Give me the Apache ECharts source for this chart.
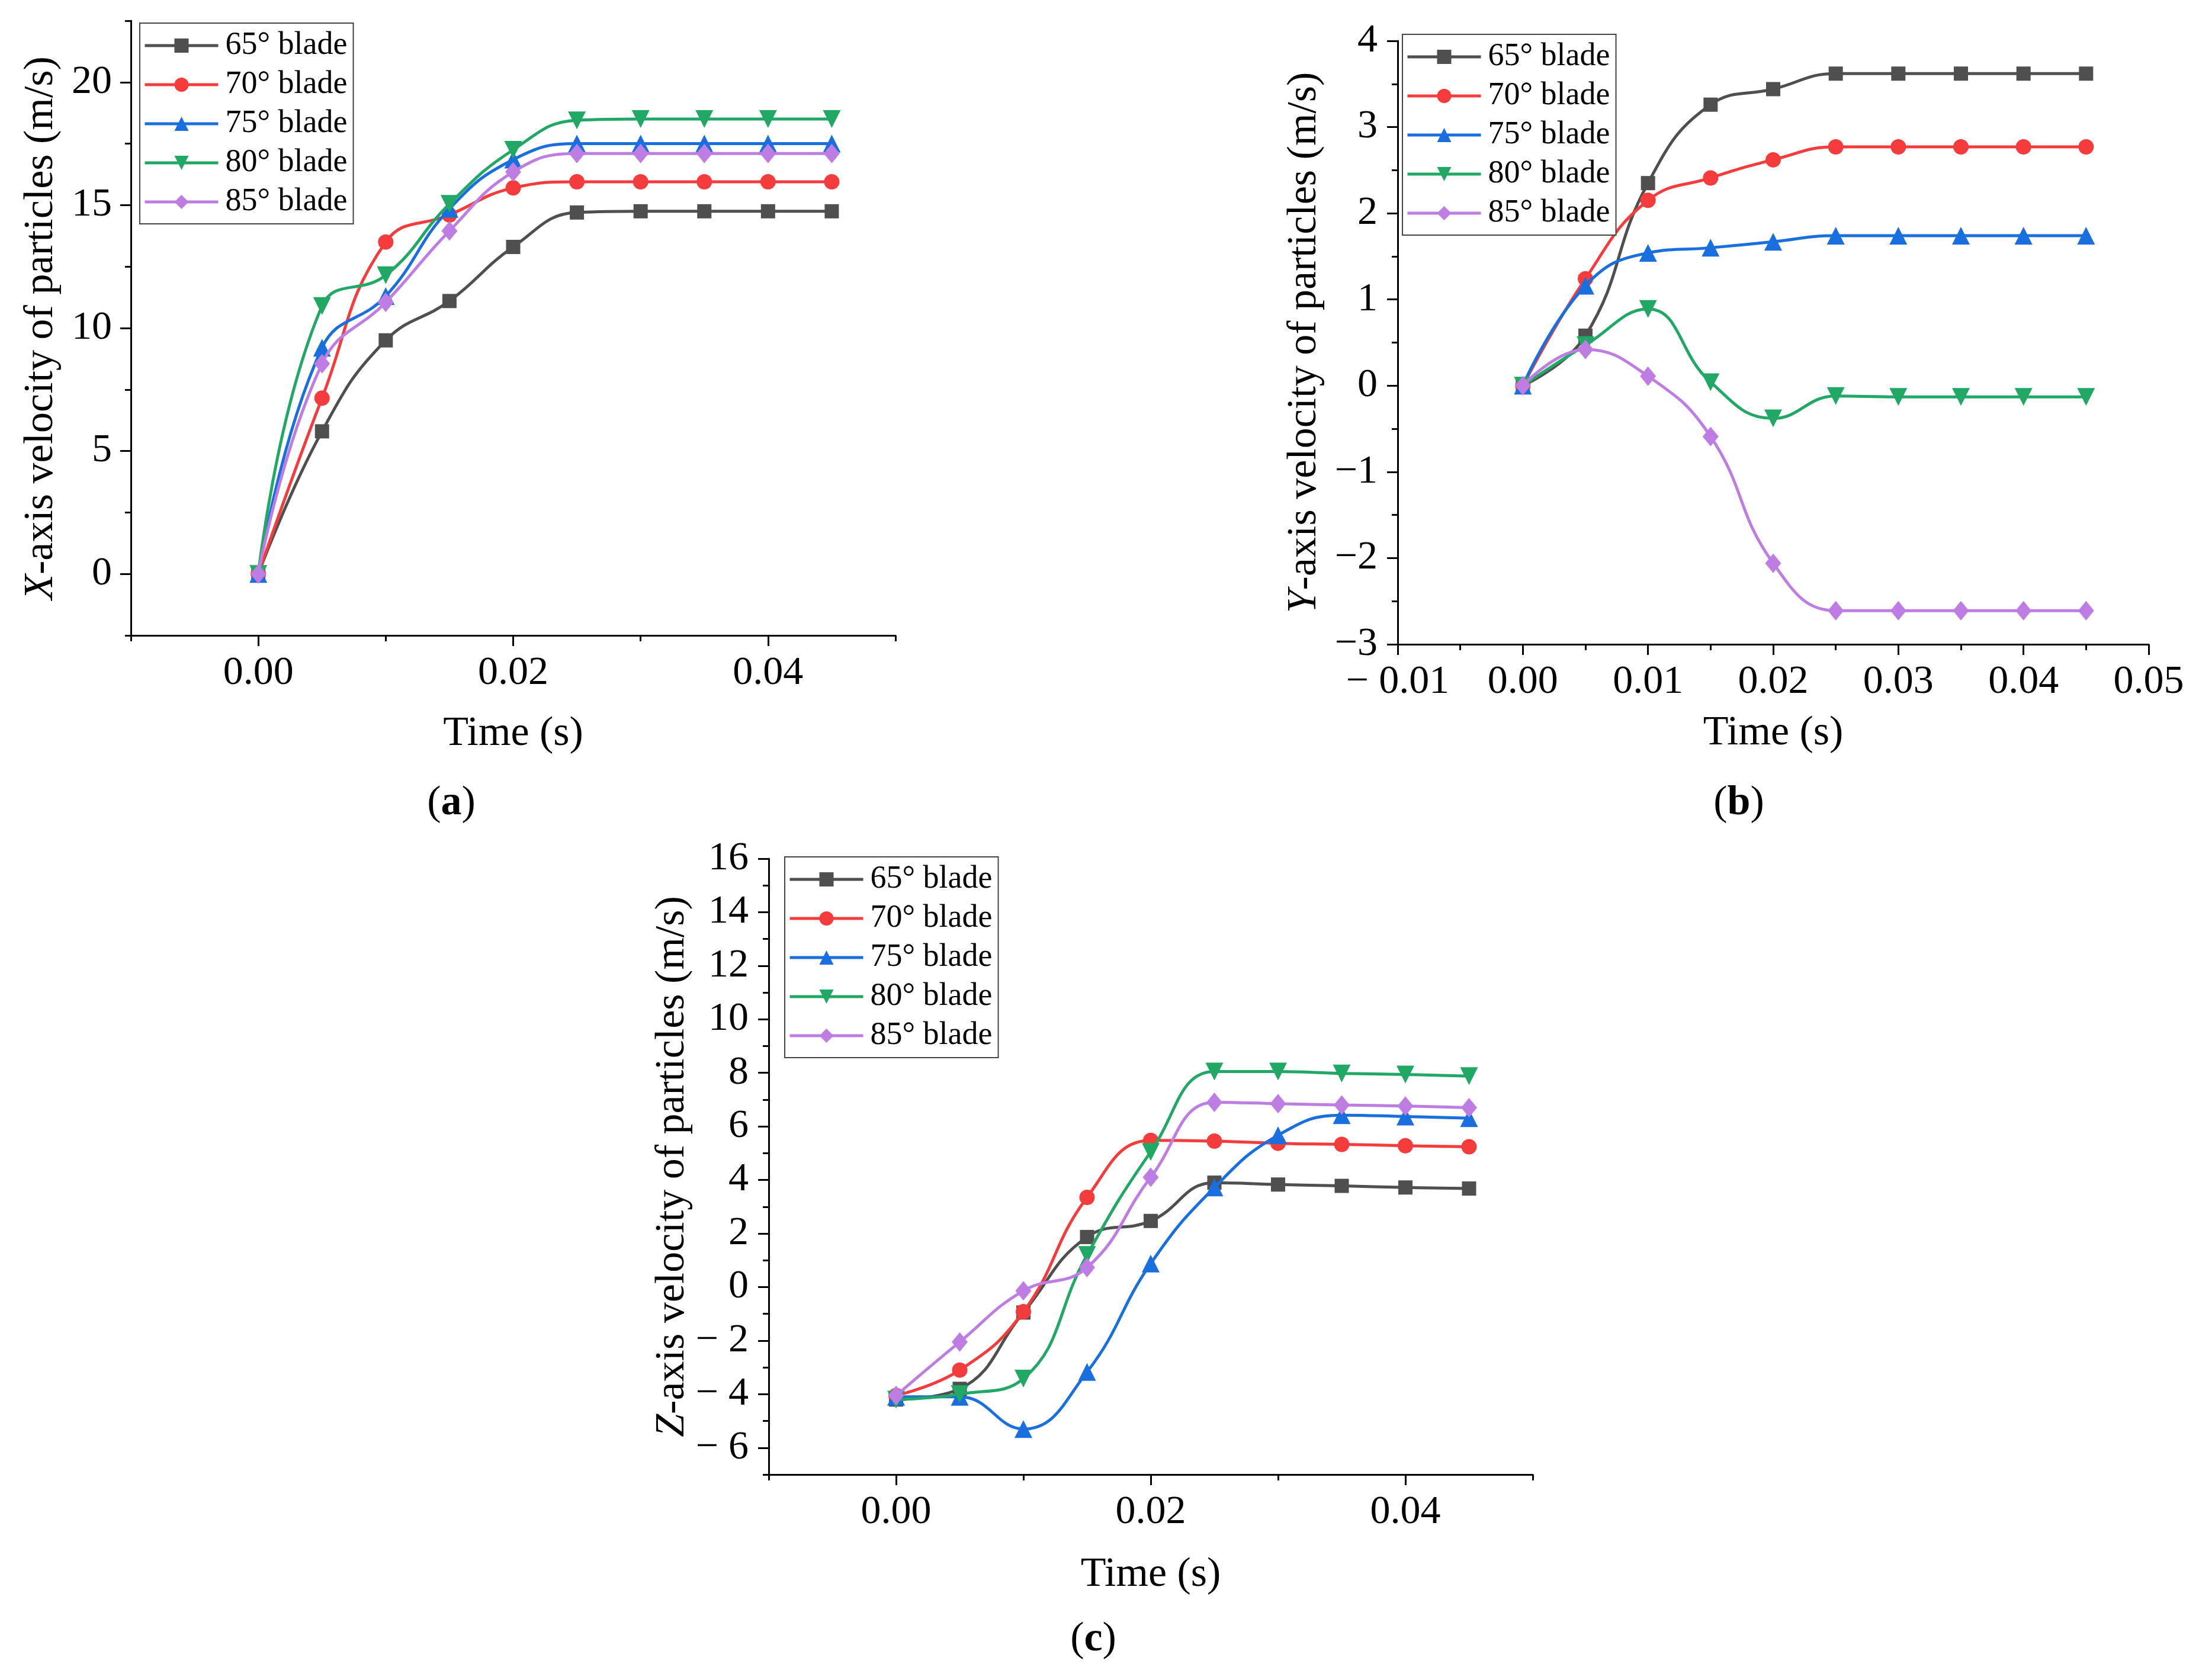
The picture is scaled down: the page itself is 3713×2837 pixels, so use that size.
<!DOCTYPE html>
<html>
<head>
<meta charset="utf-8">
<script src="https://cdn.jsdelivr.net/npm/echarts@6/dist/echarts.min.js"></script>
<title>Particle velocity</title>
<style>
  * { margin: 0; padding: 0; }
  html, body { background: #fff; }
  #chart { width: 3713px; height: 2837px; }
</style>
</head>
<body>
<div id="chart"></div>
<script>
// time points (s)
var timeValues = [0, 0.005, 0.01, 0.015, 0.02, 0.025, 0.03, 0.035, 0.04, 0.045];
var bladeNames = ['65° blade', '70° blade', '75° blade', '80° blade', '85° blade'];

// (a) X-axis velocity (m/s)
var vx65 = [0, 5.8, 9.5, 11.1, 13.3, 14.7, 14.75, 14.75, 14.75, 14.75];
var vx70 = [0, 7.15, 13.5, 14.6, 15.7, 15.95, 15.95, 15.95, 15.95, 15.95];
var vx75 = [0, 9.2, 11.3, 14.85, 16.85, 17.5, 17.5, 17.5, 17.5, 17.5];
var vx80 = [0, 10.9, 12.15, 15.05, 17.25, 18.45, 18.5, 18.5, 18.5, 18.5];
var vx85 = [0, 8.55, 11.05, 13.95, 16.35, 17.1, 17.1, 17.1, 17.1, 17.1];

// (b) Y-axis velocity (m/s)
var vy65 = [0, 0.58, 2.35, 3.26, 3.44, 3.62, 3.62, 3.62, 3.62, 3.62];
var vy70 = [0, 1.24, 2.15, 2.41, 2.62, 2.77, 2.77, 2.77, 2.77, 2.77];
var vy75 = [0, 1.16, 1.54, 1.6, 1.67, 1.74, 1.74, 1.74, 1.74, 1.74];
var vy80 = [0, 0.47, 0.89, 0.04, -0.38, -0.12, -0.13, -0.13, -0.13, -0.13];
var vy85 = [0, 0.42, 0.11, -0.59, -2.06, -2.61, -2.61, -2.61, -2.61, -2.61];

// (c) Z-axis velocity (m/s)
var vz65 = [-4.2, -3.8, -0.95, 1.87, 2.47, 3.9, 3.83, 3.78, 3.72, 3.68];
var vz70 = [-4.05, -3.1, -0.92, 3.35, 5.48, 5.45, 5.37, 5.33, 5.28, 5.24];
var vz75 = [-4.1, -4.1, -5.3, -3.17, 0.88, 3.72, 5.67, 6.42, 6.37, 6.31];
var vz80 = [-4.2, -4.0, -3.42, 1.2, 5.05, 8.05, 8.05, 7.98, 7.94, 7.88];
var vz85 = [-4.05, -2.05, -0.14, 0.73, 4.1, 6.9, 6.85, 6.8, 6.76, 6.7];

// ticks
var acTimeMajor = [0, 0.02, 0.04];
var acTimeMinor = [-0.01, 0.01, 0.03, 0.05];
var aYMajor = [0, 5, 10, 15, 20];
var aYMinor = [-2.5, 2.5, 7.5, 12.5, 17.5, 22.5];
var cYMajor = [-6, -4, -2, 0, 2, 4, 6, 8, 10, 12, 14, 16];
var cYMinor = [-7, -5, -3, -1, 1, 3, 5, 7, 9, 11, 13, 15];

var FONT = "'Liberation Serif', 'Times New Roman', serif";
var colors = ['#4F4F4F', '#F43C3C', '#1A6FDF', '#21A865', '#BE7DE2'];
var symbols = ['rect', 'circle', 'triangle', 'triangle', 'diamond'];
var symbolSizes = [24, 26, 30, 30, [27, 33]];
var symbolRotates = [0, 0, 0, 180, 0];

var grids = [
  { left: 221, top: 35, width: 1291, height: 1038 },
  { left: 2360, top: 69, width: 1268, height: 1019 },
  { left: 1298, top: 1450, width: 1290, height: 1040 }
];

var lineBlack = { color: '#000', width: 3 };

function minusFmt(sep, digits) {
  return function (v) {
    var s = digits == null ? String(Math.abs(v)) : Math.abs(v).toFixed(digits);
    return v < 0 ? '\u2212' + sep + s : s;
  };
}

function baseAxis(extra) {
  var ax = {
    type: 'value',
    axisLine: { show: true, onZero: false, lineStyle: lineBlack },
    axisTick: { show: true, length: 18, lineStyle: lineBlack },
    axisLabel: { color: '#000', fontFamily: FONT, fontSize: 68, margin: 30 },
    splitLine: { show: false },
    nameTextStyle: { color: '#000', fontFamily: FONT, fontSize: 70 },
    nameLocation: 'middle'
  };
  for (var k in extra) {
    if (typeof extra[k] === 'object' && ax[k] && !Array.isArray(extra[k])) {
      ax[k] = Object.assign({}, ax[k], extra[k]);
    } else {
      ax[k] = extra[k];
    }
  }
  return ax;
}

function minorAxis(gridIndex, pos, min, max, values) {
  return {
    type: 'value', gridIndex: gridIndex, position: pos, min: min, max: max,
    axisLine: { show: false, onZero: false },
    axisTick: { show: true, length: 10, lineStyle: lineBlack, customValues: values },
    axisLabel: { show: false, customValues: values },
    splitLine: { show: false }
  };
}

var italicRich = { i: { fontStyle: 'italic', fontFamily: FONT, fontSize: 70, color: '#000' } };

var xAxes = [
  baseAxis({ gridIndex: 0, position: 'bottom', min: -0.01, max: 0.05,
    axisTick: { customValues: acTimeMajor },
    axisLabel: { customValues: acTimeMajor, formatter: minusFmt(' ', 2) },
    name: 'Time (s)', nameGap: 132 }),
  minorAxis(0, 'bottom', -0.01, 0.05, acTimeMinor),
  baseAxis({ gridIndex: 1, position: 'bottom', min: -0.01, max: 0.05, interval: 0.01,
    minorTick: { show: true, splitNumber: 2, length: 10, lineStyle: lineBlack },
    axisLabel: { formatter: minusFmt(' ', 2) },
    name: 'Time (s)', nameGap: 116 }),
  baseAxis({ gridIndex: 2, position: 'bottom', min: -0.01, max: 0.05,
    axisTick: { customValues: acTimeMajor },
    axisLabel: { customValues: acTimeMajor, formatter: minusFmt(' ', 2) },
    name: 'Time (s)', nameGap: 135 }),
  minorAxis(2, 'bottom', -0.01, 0.05, acTimeMinor)
];

var yAxes = [
  baseAxis({ gridIndex: 0, position: 'left', min: -2.5, max: 22.5,
    axisTick: { customValues: aYMajor },
    axisLabel: { customValues: aYMajor, margin: 32 },
    name: '{i|X}-axis velocity of particles (m/s)', nameGap: 116,
    nameTextStyle: { rich: italicRich } }),
  minorAxis(0, 'left', -2.5, 22.5, aYMinor),
  baseAxis({ gridIndex: 1, position: 'left', min: -3, max: 4, interval: 1,
    minorTick: { show: true, splitNumber: 2, length: 10, lineStyle: lineBlack },
    axisLabel: { formatter: minusFmt('', null), margin: 34 },
    name: '{i|Y}-axis velocity of particles (m/s)', nameGap: 122,
    nameTextStyle: { rich: italicRich } }),
  baseAxis({ gridIndex: 2, position: 'left', min: -7, max: 16,
    axisTick: { customValues: cYMajor },
    axisLabel: { customValues: cYMajor, formatter: minusFmt(' ', null), margin: 34 },
    name: '{i|Z}-axis velocity of particles (m/s)', nameGap: 126,
    nameTextStyle: { rich: italicRich } }),
  minorAxis(2, 'left', -7, 16, cYMinor)
];

// axis indices of the main axes for each panel
var mainX = [0, 2, 3];
var mainY = [0, 2, 3];
var panelData = [
  [vx65, vx70, vx75, vx80, vx85],
  [vy65, vy70, vy75, vy80, vy85],
  [vz65, vz70, vz75, vz80, vz85]
];

var series = [];
panelData.forEach(function (sets, p) {
  sets.forEach(function (vals, i) {
    series.push({
      type: 'line',
      name: bladeNames[i],
      xAxisIndex: mainX[p],
      yAxisIndex: mainY[p],
      data: timeValues.map(function (t, j) { return [t, vals[j]]; }),
      smooth: 0.45,
      symbol: symbols[i],
      symbolSize: symbolSizes[i],
      symbolRotate: symbolRotates[i],
      showAllSymbol: true,
      lineStyle: { color: colors[i], width: 5 },
      itemStyle: { color: colors[i], borderWidth: 0 },
      emphasis: { disabled: true },
      z: 2 + i
    });
  });
});

var legendPos = [[236, 39], [2368, 58], [1325, 1447]];
var legends = legendPos.map(function (p) {
  return {
    left: p[0], top: p[1],
    orient: 'vertical',
    data: bladeNames,
    itemWidth: 124,
    itemHeight: 30,
    itemGap: 6,
    padding: [8, 10, 7, 6],
    borderColor: '#444',
    borderWidth: 2,
    backgroundColor: '#fff',
    selectedMode: false,
    lineStyle: { width: 5 },
    textStyle: { color: '#000', fontFamily: FONT, fontSize: 54, lineHeight: 60, padding: [0, 0, 0, 7] }
  };
});

function caption(letter, x, y) {
  return {
    type: 'text', x: x, y: y,
    style: {
      text: '(' + '{b|' + letter + '})',
      fill: '#000', fontFamily: FONT, fontSize: 70,
      align: 'center', verticalAlign: 'middle',
      rich: { b: { fontWeight: 'bold', fontFamily: FONT, fontSize: 70, fill: '#000' } }
    }
  };
}

var option = {
  backgroundColor: '#fff',
  animation: false,
  grid: grids,
  xAxis: xAxes,
  yAxis: yAxes,
  legend: legends,
  series: series,
  graphic: [caption('a', 762, 1357), caption('b', 2936, 1357), caption('c', 1846, 2769)]
};

var chart = echarts.init(document.getElementById('chart'));
chart.setOption(option);
</script>
</body>
</html>
